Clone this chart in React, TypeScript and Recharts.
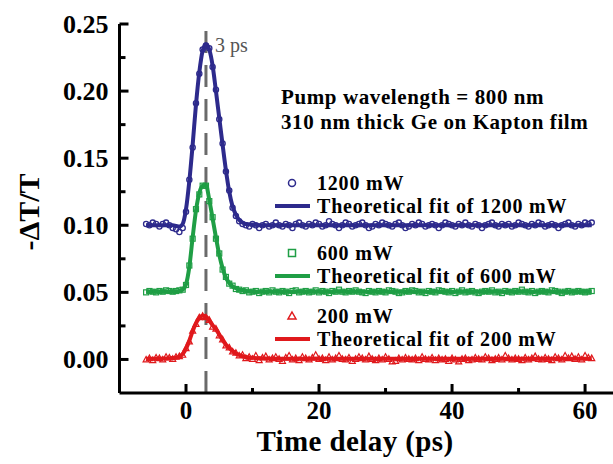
import React from 'react'
import { ComposedChart, Scatter, Line, XAxis, YAxis, ReferenceLine } from 'recharts'

// measured delay points (ps)
const delay = [
  -6, -5.5, -5, -4.5, -4, -3.5, -3, -2.5, -2, -1.5,
  -1, -0.5, 0, 0.5, 1, 1.5, 2, 2.5, 3, 3.5,
  4, 4.5, 5, 5.5, 6, 6.5, 7, 7.5, 8, 8.5,
  9, 9.5, 10, 10.5, 11, 11.5, 12, 12.5, 13, 13.5,
  14, 14.5, 15, 15.5, 16, 16.5, 17, 17.5, 18, 18.5,
  19, 19.5, 20, 20.5, 21, 21.5, 22, 22.5, 23, 23.5,
  24, 24.5, 25, 25.5, 26, 26.5, 27, 27.5, 28, 28.5,
  29, 29.5, 30, 30.5, 31, 31.5, 32, 32.5, 33, 33.5,
  34, 34.5, 35, 35.5, 36, 36.5, 37, 37.5, 38, 38.5,
  39, 39.5, 40, 40.5, 41, 41.5, 42, 42.5, 43, 43.5,
  44, 44.5, 45, 45.5, 46, 46.5, 47, 47.5, 48, 48.5,
  49, 49.5, 50, 50.5, 51, 51.5, 52, 52.5, 53, 53.5,
  54, 54.5, 55, 55.5, 56, 56.5, 57, 57.5, 58, 58.5,
  59, 59.5, 60, 60.5, 61,
]

const pts1200 = [
  0.101, 0.100, 0.102, 0.101, 0.099, 0.101, 0.102, 0.100, 0.098, 0.097,
  0.095, 0.098, 0.110, 0.134, 0.158, 0.191, 0.213, 0.231, 0.234, 0.232,
  0.218, 0.201, 0.179, 0.161, 0.140, 0.126, 0.113, 0.107, 0.103, 0.101,
  0.100, 0.099, 0.101, 0.100, 0.098, 0.100, 0.101, 0.099, 0.100, 0.102,
  0.100, 0.099, 0.101, 0.100, 0.098, 0.101, 0.102, 0.100, 0.099, 0.101,
  0.100, 0.102, 0.101, 0.099, 0.100, 0.103, 0.101, 0.100, 0.098, 0.100,
  0.102, 0.101, 0.099, 0.100, 0.101, 0.102, 0.100, 0.098, 0.099, 0.101,
  0.100, 0.102, 0.101, 0.100, 0.099, 0.101, 0.102, 0.100, 0.098, 0.099,
  0.101, 0.100, 0.102, 0.101, 0.099, 0.100, 0.101, 0.100, 0.098, 0.100,
  0.102, 0.101, 0.100, 0.099, 0.101, 0.100, 0.102, 0.100, 0.099, 0.101,
  0.100, 0.098, 0.100, 0.101, 0.102, 0.100, 0.099, 0.101, 0.100, 0.101,
  0.099, 0.100, 0.102, 0.101, 0.100, 0.099, 0.101, 0.100, 0.102, 0.101,
  0.099, 0.100, 0.101, 0.100, 0.098, 0.100, 0.101, 0.102, 0.100, 0.099,
  0.101, 0.100, 0.102, 0.101, 0.102,
]

const pts600 = [
  0.0500, 0.0510, 0.0505, 0.0500, 0.0510, 0.0505, 0.0515, 0.0510, 0.0505, 0.0510,
  0.0515, 0.0520, 0.0555, 0.0700, 0.0900, 0.1120, 0.1230, 0.1295, 0.1295, 0.1180,
  0.1060, 0.0900, 0.0790, 0.0670, 0.0615, 0.0565, 0.0550, 0.0525, 0.0520, 0.0510,
  0.0515, 0.0500, 0.0505, 0.0510, 0.0495, 0.0505, 0.0510, 0.0500, 0.0515, 0.0505,
  0.0500, 0.0510, 0.0505, 0.0495, 0.0510, 0.0515, 0.0500, 0.0505, 0.0510, 0.0500,
  0.0505, 0.0515, 0.0500, 0.0510, 0.0505, 0.0495, 0.0510, 0.0505, 0.0520, 0.0505,
  0.0500, 0.0510, 0.0505, 0.0515, 0.0505, 0.0500, 0.0495, 0.0510, 0.0505, 0.0500,
  0.0510, 0.0505, 0.0500, 0.0515, 0.0510, 0.0505, 0.0495, 0.0500, 0.0510, 0.0505,
  0.0515, 0.0510, 0.0500, 0.0505, 0.0495, 0.0510, 0.0505, 0.0500, 0.0515, 0.0510,
  0.0505, 0.0500, 0.0510, 0.0495, 0.0505, 0.0515, 0.0500, 0.0505, 0.0510, 0.0500,
  0.0495, 0.0505, 0.0510, 0.0505, 0.0515, 0.0500, 0.0505, 0.0495, 0.0510, 0.0505,
  0.0500, 0.0510, 0.0505, 0.0520, 0.0505, 0.0500, 0.0510, 0.0495, 0.0505, 0.0510,
  0.0505, 0.0500, 0.0515, 0.0510, 0.0505, 0.0495, 0.0505, 0.0510, 0.0500, 0.0505,
  0.0510, 0.0505, 0.0500, 0.0505, 0.0510,
]

const pts200 = [
  0.0000, 0.0010, -0.0005, 0.0015, 0.0010, 0.0000, 0.0020, 0.0015, 0.0005, 0.0020,
  0.0025, 0.0035, 0.0085, 0.0135, 0.0215, 0.0265, 0.0315, 0.0325, 0.0315, 0.0295,
  0.0245, 0.0230, 0.0180, 0.0150, 0.0105, 0.0090, 0.0060, 0.0050, 0.0030, 0.0035,
  0.0010, 0.0020, 0.0005, 0.0030, -0.0005, 0.0015, 0.0025, 0.0000, 0.0010, 0.0020,
  0.0005, -0.0010, 0.0015, 0.0030, 0.0000, 0.0010, -0.0005, 0.0020, 0.0010, 0.0000,
  0.0015, 0.0035, 0.0005, 0.0010, -0.0005, 0.0020, 0.0000, 0.0010, 0.0030, 0.0005,
  0.0000, 0.0015, -0.0010, 0.0005, 0.0020, 0.0010, 0.0000, 0.0025, 0.0005, -0.0005,
  0.0010, 0.0000, 0.0020, 0.0005, -0.0015, -0.0010, 0.0010, 0.0000, 0.0015, 0.0005,
  0.0000, 0.0010, -0.0005, 0.0020, 0.0005, 0.0000, 0.0015, -0.0005, 0.0010, 0.0000,
  0.0005, -0.0010, 0.0010, 0.0000, -0.0015, 0.0005, 0.0010, -0.0005, 0.0000, 0.0015,
  0.0005, 0.0000, 0.0020, 0.0010, -0.0005, 0.0005, 0.0015, 0.0000, 0.0030, 0.0010,
  0.0000, 0.0010, 0.0005, -0.0005, 0.0015, 0.0000, 0.0010, 0.0025, 0.0005, 0.0000,
  0.0015, 0.0005, -0.0005, 0.0020, 0.0010, 0.0000, 0.0030, 0.0010, 0.0025, 0.0005,
  0.0020, 0.0000, 0.0030, 0.0015, 0.0010,
]

// theoretical fits
const fitDelay = [
  -6, -4, -2, -1.5, -1, -0.5, 0, 0.5, 1, 1.5, 2, 2.5, 3, 3.5, 4, 4.5, 5,
  5.5, 6, 6.5, 7, 7.5, 8, 8.5, 9, 10, 12, 15, 20, 30, 40, 50, 61,
]
const fit1200 = [
  0.100, 0.100, 0.100, 0.0995, 0.099, 0.101, 0.112, 0.133, 0.160, 0.190, 0.214, 0.230, 0.235, 0.231, 0.219, 0.200, 0.180,
  0.160, 0.141, 0.125, 0.114, 0.108, 0.104, 0.102, 0.101, 0.1005, 0.100, 0.100, 0.100, 0.100, 0.100, 0.100, 0.100,
]
const fit600 = [
  0.0505, 0.0505, 0.0505, 0.0505, 0.051, 0.052, 0.056, 0.069, 0.091, 0.111, 0.124, 0.1295, 0.130, 0.119, 0.105, 0.091, 0.078,
  0.068, 0.061, 0.057, 0.0545, 0.053, 0.052, 0.0515, 0.051, 0.0505, 0.0505, 0.0505, 0.0505, 0.0505, 0.0505, 0.0505, 0.0505,
]
const fit200 = [
  0.0005, 0.0005, 0.001, 0.0015, 0.002, 0.004, 0.008, 0.014, 0.021, 0.027, 0.031, 0.0325, 0.032, 0.029, 0.0255, 0.0225, 0.0185,
  0.0145, 0.011, 0.0085, 0.0062, 0.0045, 0.0033, 0.0024, 0.0018, 0.0012, 0.0008, 0.0006, 0.0005, 0.0005, 0.0005, 0.0005, 0.0005,
]

const xTicks = [0, 10, 20, 30, 40, 50, 60]
const yTicks = [0, 0.025, 0.05, 0.075, 0.1, 0.125, 0.15, 0.175, 0.2, 0.225, 0.25]

const BLUE = '#2d2a8c'
const GREEN = '#1f9e45'
const RED = '#e0191c'
const FONT = '"Liberation Serif", "Times New Roman", serif'

const toPts = (xs: number[], ys: number[]) => xs.map((x, i) => ({ x, y: ys[i] }))

const isMajorY = (v: number) => Math.round(v * 1000) % 50 === 0
const isMajorX = (v: number) => v % 20 === 0

const LeftTick = (p: any) => {
  const v = p.payload.value
  const major = isMajorY(v)
  return (
    <g>
      <line x1={p.x} x2={p.x + (major ? 9 : 6)} y1={p.y} y2={p.y} stroke="#000" strokeWidth={3} />
      {major && (
        <text x={p.x - 11} y={p.y} textAnchor="end" dominantBaseline="central"
          fontFamily={FONT} fontWeight="bold" fontSize={26} fill="#000">
          {v.toFixed(2)}
        </text>
      )}
    </g>
  )
}

const RightTick = (p: any) => {
  const major = isMajorY(p.payload.value)
  return <line x1={p.x} x2={p.x - (major ? 9 : 6)} y1={p.y} y2={p.y} stroke="#000" strokeWidth={3} />
}

const BottomTick = (p: any) => {
  const v = p.payload.value
  const major = isMajorX(v)
  return (
    <g>
      <line x1={p.x} x2={p.x} y1={p.y} y2={p.y - (major ? 9 : 5)} stroke="#000" strokeWidth={3} />
      {major && (
        <text x={p.x} y={p.y + 17} textAnchor="middle" dominantBaseline="central"
          fontFamily={FONT} fontWeight="bold" fontSize={25} fill="#000">
          {v}
        </text>
      )}
    </g>
  )
}

const TopTick = (p: any) => {
  const major = isMajorX(p.payload.value)
  return <line x1={p.x} x2={p.x} y1={p.y} y2={p.y + (major ? 9 : 5)} stroke="#000" strokeWidth={3} />
}

const hexMark = (p: any) => <circle cx={p.cx} cy={p.cy} r={2.6} fill="none" stroke={BLUE} strokeWidth={1.3} />
const squareMark = (p: any) => <rect x={p.cx - 2.5} y={p.cy - 2.5} width={5} height={5} fill="none" stroke={GREEN} strokeWidth={1.2} />
const triMark = (p: any) => (
  <path d={`M${p.cx},${p.cy - 3} L${p.cx + 3},${p.cy + 2.5} L${p.cx - 3},${p.cy + 2.5} Z`} fill="none" stroke={RED} strokeWidth={1.2} />
)

const legendRows = [
  { label: '1200 mW', fit: 'Theoretical fit of 1200 mW', color: BLUE, top: 183 },
  { label: '600 mW', fit: 'Theoretical fit of 600 mW', color: GREEN, top: 253 },
  { label: '200 mW', fit: 'Theoretical fit of 200 mW', color: RED, top: 316 },
]
const ROW_GAP = 23

const ThreePs = (p: any) => {
  const vb = p.viewBox
  return (
    <text x={vb.x + 9} y={vb.y + 21} dominantBaseline="central" fontFamily={FONT} fontSize={20} fill="#555">
      3 ps
    </text>
  )
}

export default function App() {
  const txt = { fontFamily: FONT, fontWeight: 'bold' as const, fill: '#000' }
  return (
    <div style={{ position: 'absolute', left: 0, top: 0, width: 613, height: 464, overflow: 'hidden', background: '#fff' }}>
      <ComposedChart width={640} height={464} margin={{ top: 24, right: 0, bottom: 0, left: 0 }}>
        <XAxis xAxisId="b" type="number" dataKey="x" domain={[-10, 64.5]} ticks={xTicks} interval={0}
          tick={<BottomTick />} tickLine={false} tickSize={0} tickMargin={0} height={71}
          axisLine={{ stroke: '#000', strokeWidth: 3 }} />
        <XAxis xAxisId="t" orientation="top" type="number" dataKey="x" domain={[-10, 64.5]} ticks={xTicks} interval={0}
          tick={<TopTick />} tickLine={false} tickSize={0} tickMargin={0} height={0}
          axisLine={{ stroke: '#000', strokeWidth: 3 }} />
        <YAxis yAxisId="l" type="number" dataKey="y" domain={[-0.025, 0.25]} ticks={yTicks} interval={0}
          tick={<LeftTick />} tickLine={false} tickSize={0} tickMargin={0} width={119.5}
          axisLine={{ stroke: '#000', strokeWidth: 3 }} />
        <YAxis yAxisId="r" orientation="right" type="number" dataKey="y" domain={[-0.025, 0.25]} ticks={yTicks} interval={0}
          tick={<RightTick />} tickLine={false} tickSize={0} tickMargin={0} width={25}
          axisLine={{ stroke: '#000', strokeWidth: 3 }} />

        <ReferenceLine xAxisId="b" yAxisId="l" x={3} stroke="#6a6a6a" strokeWidth={3} strokeDasharray="22 12" label={<ThreePs />} />

        <Scatter xAxisId="b" yAxisId="l" data={toPts(delay, pts1200)} shape={hexMark} isAnimationActive={false} />
        <Scatter xAxisId="b" yAxisId="l" data={toPts(delay, pts600)} shape={squareMark} isAnimationActive={false} />
        <Scatter xAxisId="b" yAxisId="l" data={toPts(delay, pts200)} shape={triMark} isAnimationActive={false} />

        <Line xAxisId="b" yAxisId="l" data={toPts(fitDelay, fit1200)} dataKey="y" type="monotone" stroke={BLUE} strokeWidth={4} dot={false} isAnimationActive={false} />
        <Line xAxisId="b" yAxisId="l" data={toPts(fitDelay, fit600)} dataKey="y" type="monotone" stroke={GREEN} strokeWidth={4} dot={false} isAnimationActive={false} />
        <Line xAxisId="b" yAxisId="l" data={toPts(fitDelay, fit200)} dataKey="y" type="monotone" stroke={RED} strokeWidth={4} dot={false} isAnimationActive={false} />
      </ComposedChart>

      <svg width={613} height={464} style={{ position: 'absolute', left: 0, top: 0, pointerEvents: 'none' }}>
        <text transform="translate(28,212) rotate(-90)" textAnchor="middle" dominantBaseline="central" fontSize={30} {...txt}>
          -ΔT/T
        </text>
        <text x={355} y={441} textAnchor="middle" dominantBaseline="central" fontSize={29} letterSpacing={0.4} {...txt}>
          Time delay (ps)
        </text>
        <text x={281} y={97} dominantBaseline="central" fontSize={21} letterSpacing={0.6} {...txt}>Pump wavelength = 800 nm</text>
        <text x={281} y={122} dominantBaseline="central" fontSize={21} letterSpacing={0.6} {...txt}>310 nm thick Ge on Kapton film</text>
        {legendRows.map((r, i) => (
          <g key={r.label}>
            {i === 0 && <circle cx={292} cy={r.top} r={3.5} fill="none" stroke={r.color} strokeWidth={1.5} />}
            {i === 1 && <rect x={288.5} y={r.top - 3.5} width={7} height={7} fill="none" stroke={r.color} strokeWidth={1.5} />}
            {i === 2 && <path d={`M292,${r.top - 4} L296,${r.top + 3} L288,${r.top + 3} Z`} fill="none" stroke={r.color} strokeWidth={1.5} />}
            <text x={317} y={r.top} dominantBaseline="central" fontSize={20} letterSpacing={0.8} {...txt}>{r.label}</text>
            <line x1={275} x2={310} y1={r.top + ROW_GAP} y2={r.top + ROW_GAP} stroke={r.color} strokeWidth={4} />
            <text x={317} y={r.top + ROW_GAP} dominantBaseline="central" fontSize={20} letterSpacing={0.8} {...txt}>{r.fit}</text>
          </g>
        ))}
      </svg>
    </div>
  )
}
